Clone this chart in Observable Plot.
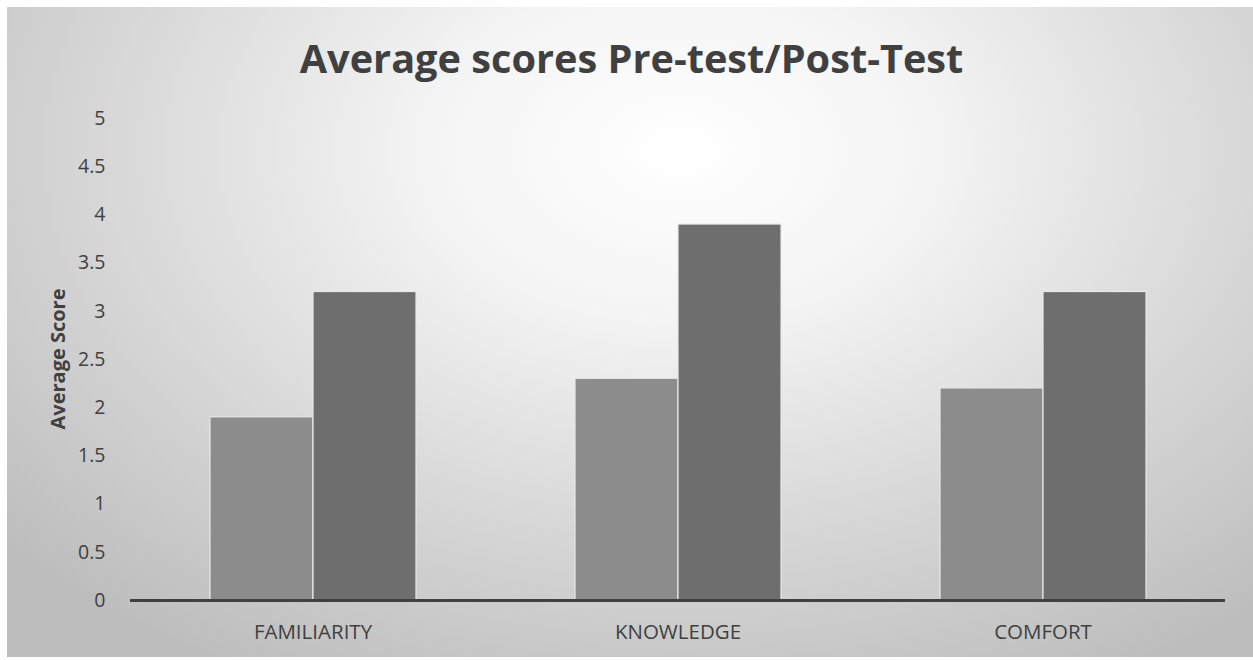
<!DOCTYPE html>
<html>
<head>
<meta charset="utf-8">
<script src="https://cdn.jsdelivr.net/npm/d3@7"></script>
<script src="https://cdn.jsdelivr.net/npm/@observablehq/plot@0.6"></script>
<style>
  html, body { margin: 0; padding: 0; background: #fff; }
  #wrap { position: relative; width: 1253px; height: 660px; overflow: hidden; background: #fff; }
  #bg { position: absolute; left: 7px; top: 7px; width: 1246px; height: 650px;
        background: radial-gradient(ellipse 72% 92% at 54% 22%, #ffffff 0%, #f4f4f4 28%, #d9d9d9 62%, #bdbdbd 100%); }
  #title { position: absolute; left: 0; top: 31px; width: 1263px; text-align: center;
           font-family: "Open Sans", sans-serif; font-weight: 700; font-size: 39.7px; color: #404040; }
  #chart { position: absolute; left: 0; top: 100px; }
  #ylab { position: absolute; left: 57px; top: 359px; transform: translate(-50%, -50%) rotate(-90deg);
          font-family: "Open Sans", sans-serif; font-weight: 700; font-size: 20px; color: #404040; white-space: nowrap; }
</style>
</head>
<body>
<div id="wrap">
  <div id="bg"></div>
  <div id="title">Average scores Pre-test/Post-Test</div>
  <div id="ylab">Average Score</div>
  <div id="chart"></div>
</div>
<script>
const categories = ["FAMILIARITY", "KNOWLEDGE", "COMFORT"];
const series = ["Pre-test", "Post-test"];
const preValues = [1.9, 2.3, 2.2];
const postValues = [3.2, 3.9, 3.2];
const yTicks = [0, 0.5, 1, 1.5, 2, 2.5, 3, 3.5, 4, 4.5, 5];
const colors = ["#8c8c8c", "#6e6e6e"];

const data = [];
categories.forEach((c, i) => {
  data.push({category: c, series: series[0], value: preValues[i]});
  data.push({category: c, series: series[1], value: postValues[i]});
});

const plot = Plot.plot({
  width: 1253,
  height: 560,
  marginLeft: 130,
  marginRight: 28,
  marginTop: 18,
  marginBottom: 60,
  style: { background: "transparent", fontFamily: "Open Sans, sans-serif", color: "#404040" },
  fx: { domain: categories, padding: 0, label: null, axis: null },
  x: { domain: series, paddingInner: 0, paddingOuter: 0.755, axis: null },
  y: { domain: [0, 5], label: null },
  color: { domain: series, range: colors },
  marks: [
    Plot.axisY({ ticks: yTicks, tickSize: 0, tickPadding: 25, label: null, fontSize: 19.5, tickFormat: d => String(d) }),
    Plot.axisFx({ anchor: "bottom", tickSize: 0, tickPadding: 24, label: null, fontSize: 20.5 }),
    Plot.barY(data, { fx: "category", x: "series", y: "value", fill: "series", stroke: "#e8e8e8", strokeWidth: 1.2 }),
    Plot.ruleY([0], { stroke: "#404040", strokeWidth: 3 })
  ]
});
document.getElementById("chart").appendChild(plot);
</script>
</body>
</html>
